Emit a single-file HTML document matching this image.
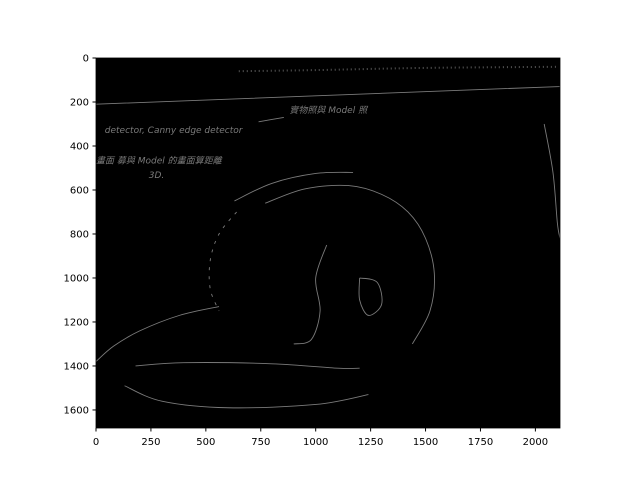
<!DOCTYPE html>
<html><head><meta charset="utf-8"><style>
body{margin:0;background:#fff;}
svg{display:block;font-family:"DejaVu Sans","Liberation Sans","Noto Sans CJK TC",sans-serif;}
</style></head><body>
<svg id="c" width="640" height="480">
<defs><clipPath id="clipA"><rect x="96" y="58" width="464" height="370"/></clipPath></defs>
<rect x="96" y="58" width="464" height="370" fill="#000"/>
<g id="edges" clip-path="url(#clipA)" fill="none" stroke="#7a7a7a" stroke-width="0.9"></g>
<g id="notes" clip-path="url(#clipA)" fill="#7a7a7a" font-size="9" font-style="italic"></g>
<g id="axes"></g>
</svg>
<script>
const xTicks=[0,250,500,750,1000,1250,1500,1750,2000];
const yTicks=[0,200,400,600,800,1000,1200,1400,1600];
const imgW=2112, imgH=1682;
const edgeTop=[[0,210],[1000,172],[2050,132],[2112,130]];
const edgeRight=[[2040,300],[2080,520],[2100,750],[2112,820]];
const ringOuter=[[630,650],[800,570],[1000,525],[1170,520]];
const ringInner=[[770,660],[950,595],[1150,580],[1300,620],[1420,700],[1500,820],[1540,980],[1520,1150],[1440,1300]];
const ringLeft=[[640,700],[560,800],[520,920],[520,1050],[560,1150]];
const sweepUpper=[[0,1380],[80,1310],[200,1240],[380,1170],[560,1130]];
const sweepMid=[[180,1400],[400,1385],[800,1390],[1100,1410],[1200,1410]];
const sweepLow=[[130,1490],[300,1560],[600,1590],[1000,1575],[1240,1530]];
const topNoise=[[650,60],[1000,55],[1500,45],[2100,40]];
const arrow=[[855,270],[740,290]];
const innerBits=[[1050,850],[1000,1000],[1020,1150],[980,1280],[900,1300]];
const blob=[[1200,1000],[1280,1020],[1300,1120],[1240,1170],[1200,1100],[1200,1000]];
const noteText=["detector, Canny edge detector","實物照與 Model 照","畫面 募與 Model 的畫面算距離","3D."];
const notePos=[[40,340],[880,250],[0,480],[240,545]];
const X=v=>96+v*464/imgW, Y=v=>58+v*370/imgH;
const ns="http://www.w3.org/2000/svg";
const eg=document.getElementById('edges'), ag=document.getElementById('axes'), ng=document.getElementById('notes');
function smooth(pts){
  const p=pts.map(q=>[X(q[0]),Y(q[1])]);
  let d='M'+p[0][0]+','+p[0][1];
  for(let i=0;i<p.length-1;i++){
    const p0=p[i-1]||p[i],p1=p[i],p2=p[i+1],p3=p[i+2]||p2;
    const c1=[p1[0]+(p2[0]-p0[0])/6,p1[1]+(p2[1]-p0[1])/6];
    const c2=[p2[0]-(p3[0]-p1[0])/6,p2[1]-(p3[1]-p1[1])/6];
    d+=' C'+c1+' '+c2+' '+p2;
  }
  return d;
}
const series={edgeTop,edgeRight,ringOuter,ringInner,ringLeft,sweepUpper,sweepMid,sweepLow,topNoise,arrow,innerBits,blob};
for(const k in series){
  const p=document.createElementNS(ns,'path');
  p.setAttribute('d',smooth(series[k]));
  if(k==='topNoise'){p.setAttribute('stroke-dasharray','1 3');p.setAttribute('stroke-width','2');p.setAttribute('stroke','#555');}
  if(k==='ringLeft'){p.setAttribute('stroke-dasharray','3 6');}
  
  
  eg.appendChild(p);
}
noteText.forEach((t,i)=>{
  const e=document.createElementNS(ns,'text');
  e.setAttribute('x',X(notePos[i][0]));e.setAttribute('y',Y(notePos[i][1]));
  e.textContent=t;
  
  
  ng.appendChild(e);
});
xTicks.forEach(v=>{
  const l=document.createElementNS(ns,'line');
  l.setAttribute('x1',X(v));l.setAttribute('x2',X(v));l.setAttribute('y1',428);l.setAttribute('y2',431.5);l.setAttribute('stroke','#000');
  
  
  ag.appendChild(l);
  const t=document.createElementNS(ns,'text');
  t.setAttribute('x',X(v));t.setAttribute('y',445);t.setAttribute('text-anchor','middle');t.setAttribute('font-size','10');
  t.textContent=v;
  
  
  ag.appendChild(t);
});
yTicks.forEach(v=>{
  const l=document.createElementNS(ns,'line');
  l.setAttribute('x1',92.5);l.setAttribute('x2',96);l.setAttribute('y1',Y(v));l.setAttribute('y2',Y(v));l.setAttribute('stroke','#000');
  
  
  ag.appendChild(l);
  const t=document.createElementNS(ns,'text');
  t.setAttribute('x',89);t.setAttribute('y',Y(v)+3.5);t.setAttribute('text-anchor','end');t.setAttribute('font-size','10');
  t.textContent=v;
  
  
  ag.appendChild(t);
});
const fr=document.createElementNS(ns,'rect');
fr.setAttribute('x',96);fr.setAttribute('y',58);fr.setAttribute('width',464);fr.setAttribute('height',370);
fr.setAttribute('fill','none');fr.setAttribute('stroke','#000');fr.setAttribute('stroke-width','0.8');


ag.appendChild(fr);
</script>
</body></html>
